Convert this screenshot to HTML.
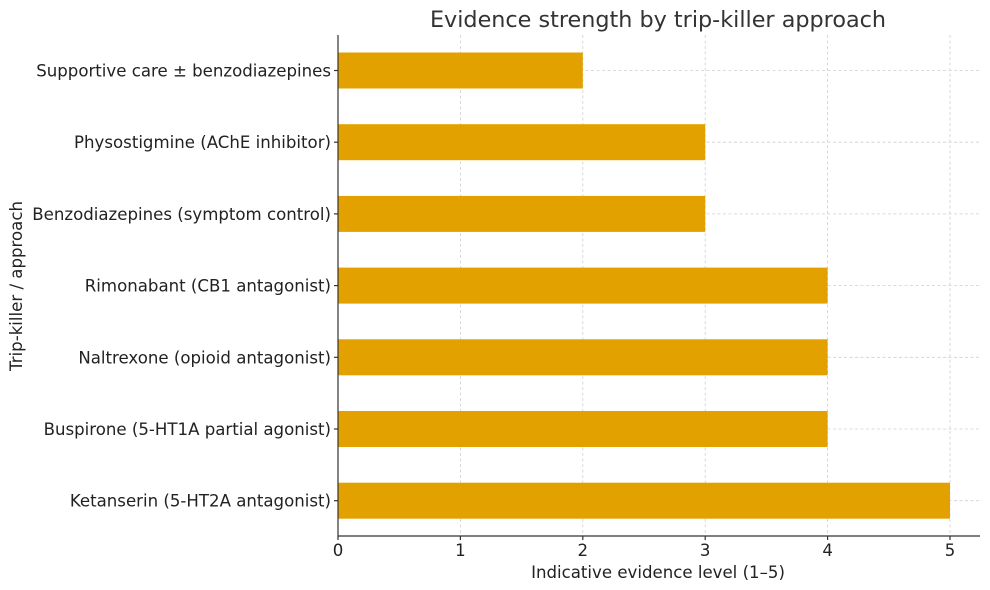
<!DOCTYPE html>
<html><head><meta charset="utf-8"><style>html,body{margin:0;padding:0;background:#fff}svg{display:block}text{font-family:"DejaVu Sans","Liberation Sans",sans-serif}</style></head><body>
<svg width="990" height="590" xmlns="http://www.w3.org/2000/svg">
<rect width="990" height="590" fill="#fff"/>
<g stroke="#cfcfcf" stroke-width="0.8" stroke-dasharray="3,2.5">
<line x1="460.4" y1="35" x2="460.4" y2="536"/><line x1="582.8" y1="35" x2="582.8" y2="536"/><line x1="705.2" y1="35" x2="705.2" y2="536"/><line x1="827.6" y1="35" x2="827.6" y2="536"/><line x1="950" y1="35" x2="950" y2="536"/>
<line x1="338" y1="70.5" x2="980" y2="70.5"/><line x1="338" y1="142.2" x2="980" y2="142.2"/><line x1="338" y1="213.9" x2="980" y2="213.9"/><line x1="338" y1="285.6" x2="980" y2="285.6"/><line x1="338" y1="357.3" x2="980" y2="357.3"/><line x1="338" y1="429" x2="980" y2="429"/><line x1="338" y1="500.7" x2="980" y2="500.7"/>
</g>
<g fill="#E3A100">
<rect x="338" y="52.5" width="244.8" height="36"/>
<rect x="338" y="124.2" width="367.2" height="36"/>
<rect x="338" y="195.9" width="367.2" height="36"/>
<rect x="338" y="267.6" width="489.6" height="36"/>
<rect x="338" y="339.3" width="489.6" height="36"/>
<rect x="338" y="411" width="489.6" height="36"/>
<rect x="338" y="482.7" width="612" height="36"/>
</g>
<g stroke="#333" stroke-width="1.2">
<line x1="338" y1="35" x2="338" y2="536.5"/><line x1="337.5" y1="536" x2="980" y2="536"/>
<line x1="338" y1="536" x2="338" y2="540"/><line x1="460.4" y1="536" x2="460.4" y2="540"/><line x1="582.8" y1="536" x2="582.8" y2="540"/><line x1="705.2" y1="536" x2="705.2" y2="540"/><line x1="827.6" y1="536" x2="827.6" y2="540"/><line x1="950" y1="536" x2="950" y2="540"/>
<line x1="334" y1="70.5" x2="338" y2="70.5"/><line x1="334" y1="142.2" x2="338" y2="142.2"/><line x1="334" y1="213.9" x2="338" y2="213.9"/><line x1="334" y1="285.6" x2="338" y2="285.6"/><line x1="334" y1="357.3" x2="338" y2="357.3"/><line x1="334" y1="429" x2="338" y2="429"/><line x1="334" y1="500.7" x2="338" y2="500.7"/>
</g>
<g fill="#222" font-size="16.6" text-anchor="end">
<text x="331" y="76.5">Supportive care ± benzodiazepines</text>
<text x="331" y="148.2">Physostigmine (AChE inhibitor)</text>
<text x="331" y="219.9">Benzodiazepines (symptom control)</text>
<text x="331" y="291.6">Rimonabant (CB1 antagonist)</text>
<text x="331" y="363.3">Naltrexone (opioid antagonist)</text>
<text x="331" y="435">Buspirone (5-HT1A partial agonist)</text>
<text x="331" y="506.7">Ketanserin (5-HT2A antagonist)</text>
</g>
<g fill="#222" font-size="16.6" text-anchor="middle">
<text x="338" y="556">0</text><text x="460.4" y="556">1</text><text x="582.8" y="556">2</text><text x="705.2" y="556">3</text><text x="827.6" y="556">4</text><text x="950" y="556">5</text>
<text x="658" y="578">Indicative evidence level (1–5)</text>
<text transform="translate(22,286) rotate(-90)">Trip-killer / approach</text>
</g>
<text x="658" y="27" font-size="22.3" fill="#333" text-anchor="middle">Evidence strength by trip-killer approach</text>
</svg>
</body></html>
